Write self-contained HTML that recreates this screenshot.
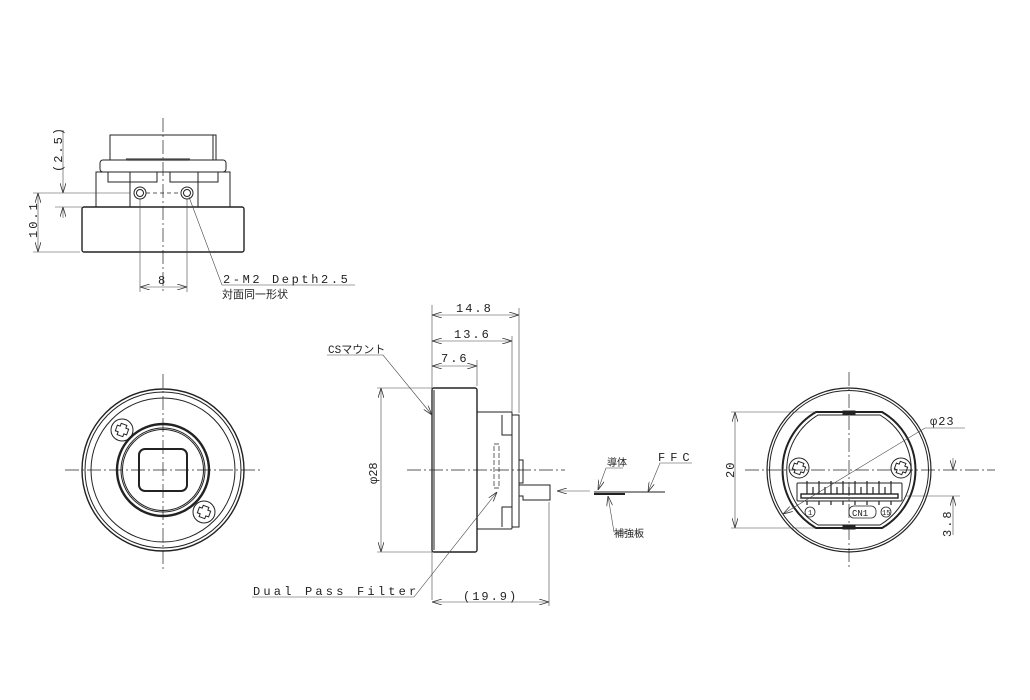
<!DOCTYPE html>
<html><head><meta charset="utf-8"><style>
html,body{margin:0;padding:0;background:#fff}
svg{display:block}
text{font-family:"Liberation Mono","Noto Sans CJK JP",monospace;fill:#222}
</style></head><body>
<svg width="1030" height="700" viewBox="0 0 1030 700" xmlns="http://www.w3.org/2000/svg">
<defs>
<marker id="a" viewBox="0 0 10 6" refX="10" refY="3" markerWidth="10" markerHeight="6" orient="auto-start-reverse" markerUnits="userSpaceOnUse"><path d="M0,0 L10,3 L0,6" fill="none" stroke="#333" stroke-width="0.8"/></marker>
</defs>
<g fill="none" stroke="#222" stroke-width="1">
<!-- TOP VIEW -->
<line x1="163" y1="118" x2="163" y2="292" stroke-dasharray="14,3,2,3" stroke-width="0.7"/>
<path d="M110,160 V135 H216 V160"/>
<line x1="213" y1="135" x2="213" y2="160"/>
<rect x="100" y="160" width="126" height="12" rx="3"/>
<path d="M126,160 q1,-3 2,0 q1,-3 2,0 q1,-3 2,0 q1,-3 2,0 q1,-3 2,0 q1,-3 2,0 q1,-3 2,0 q1,-3 2,0 q1,-3 2,0 q1,-3 2,0 q1,-3 2,0 q1,-3 2,0 q1,-3 2,0 q1,-3 2,0 q1,-3 2,0 q1,-3 2,0 q1,-3 2,0 q1,-3 2,0 q1,-3 2,0 q1,-3 2,0 q1,-3 2,0 q1,-3 2,0 q1,-3 2,0 q1,-3 2,0 q1,-3 2,0 q1,-3 2,0 q1,-3 2,0 q1,-3 2,0 q1,-3 2,0 q1,-3 2,0 q1,-3 2,0 q1,-3 2,0" stroke-width="0.8"/>
<rect x="96" y="172" width="134" height="35"/>
<path d="M108,172 V182 H130 V172 M130,182 H157 V172 M170,172 V182 H198 V172 M198,182 H218 V172"/>
<path d="M130,182 V207 M198,182 V207"/>
<circle cx="140" cy="193" r="6"/><circle cx="140" cy="193" r="3.5"/>
<circle cx="187" cy="193" r="6"/><circle cx="187" cy="193" r="3.5"/>
<line x1="146" y1="193" x2="181" y2="193" stroke-dasharray="4,3" stroke-width="0.7"/>
<rect x="82" y="207" width="162" height="45" rx="2" stroke-width="1.4"/>
<g stroke-width="0.6" stroke="#444">
<line x1="33" y1="193" x2="130" y2="193"/><line x1="33" y1="252" x2="80" y2="252"/>
<line x1="38" y1="193" x2="38" y2="252" marker-start="url(#a)" marker-end="url(#a)"/>
<line x1="55" y1="207" x2="82" y2="207"/>
<line x1="63" y1="130" x2="63" y2="193" marker-end="url(#a)"/>
<line x1="63" y1="207" x2="63" y2="218" marker-start="url(#a)"/>
<line x1="140" y1="199" x2="140" y2="292"/><line x1="187" y1="199" x2="187" y2="292"/>
<line x1="140" y1="287" x2="187" y2="287" marker-start="url(#a)" marker-end="url(#a)"/>
<path d="M189,197 L222,285 H355"/>
</g>
<!-- FRONT VIEW -->
<g stroke-width="0.7" stroke-dasharray="14,3,2,3"><line x1="65" y1="470" x2="262" y2="470"/><line x1="163" y1="374" x2="163" y2="570"/></g>
<circle cx="163" cy="470" r="81" stroke-width="1.4"/>
<circle cx="163" cy="470" r="78"/>
<circle cx="163" cy="470" r="72"/>
<circle cx="163" cy="470" r="46" stroke-width="2.4"/>
<circle cx="163" cy="470" r="42"/>
<circle cx="163" cy="470" r="40.5"/>
<rect x="139" y="449" width="48" height="42" rx="6" stroke-width="2"/>
<circle cx="122" cy="430" r="11"/><circle cx="204" cy="512" r="11"/>
<path d="M119,424 h6 v3 h3 v6 h-3 v3 h-6 v-3 h-3 v-6 h3z" transform="rotate(20 122 430)"/>
<path d="M201,506 h6 v3 h3 v6 h-3 v3 h-6 v-3 h-3 v-6 h3z" transform="rotate(20 204 512)"/>
<!-- SIDE VIEW -->
<line x1="407" y1="470" x2="565" y2="470" stroke-dasharray="14,3,2,3" stroke-width="0.7"/>
<rect x="432" y="388" width="45" height="164" rx="2" stroke-width="1.4"/>
<line x1="434" y1="390" x2="434" y2="550"/>
<rect x="477" y="412" width="35" height="117" rx="1"/>
<rect x="512" y="415" width="7" height="112"/>
<path d="M502,415 V435 H512 M502,527 V507 H512"/>
<path d="M519,460 h4 v23 h-4"/>
<path d="M519,485 h31 v15 h-27 v-4 h-4"/>
<g stroke-dasharray="5,2" stroke-width="0.7"><rect x="494" y="444" width="5" height="44"/></g>
<g stroke-width="0.6" stroke="#444">
<line x1="432" y1="305" x2="432" y2="600"/>
<line x1="519" y1="308" x2="519" y2="413"/><line x1="512" y1="336" x2="512" y2="413"/><line x1="477" y1="360" x2="477" y2="386"/>
<line x1="549" y1="502" x2="549" y2="606"/>
<line x1="432" y1="315" x2="519" y2="315" marker-start="url(#a)" marker-end="url(#a)"/>
<line x1="432" y1="341" x2="512" y2="341" marker-start="url(#a)" marker-end="url(#a)"/>
<line x1="432" y1="366" x2="477" y2="366" marker-start="url(#a)" marker-end="url(#a)"/>
<line x1="432" y1="602" x2="549" y2="602" marker-start="url(#a)" marker-end="url(#a)"/>
<line x1="377" y1="388" x2="432" y2="388"/><line x1="377" y1="552" x2="432" y2="552"/>
<line x1="381" y1="388" x2="381" y2="552" marker-start="url(#a)" marker-end="url(#a)"/>
<path d="M327,355 H383 L432,415" marker-end="url(#a)"/>
<path d="M252,597 H414 L497,492" marker-end="url(#a)"/>
<line x1="590" y1="491" x2="557" y2="491" marker-end="url(#a)"/>
<path d="M623,468 H606 L598,490" marker-end="url(#a)"/>
<path d="M692,463 H660 L648,492" marker-end="url(#a)"/>
<path d="M627,532 H614 L608,496" marker-end="url(#a)"/>
</g>
<line x1="594" y1="492" x2="665" y2="492"/>
<line x1="594" y1="494" x2="625" y2="494" stroke-width="2"/>
<!-- RIGHT VIEW -->
<g stroke-width="0.7" stroke-dasharray="14,3,2,3"><line x1="745" y1="470" x2="995" y2="470"/><line x1="849" y1="372" x2="849" y2="570"/></g>
<circle cx="849" cy="470" r="82" stroke-width="1.2"/>
<circle cx="849" cy="470" r="79.5"/>
<path d="M816,412 H882 A67,67 0 0 1 882,528 H816 A67,67 0 0 1 816,412Z" stroke-width="2"/>
<path d="M818,415 H880 A64,64 0 0 1 880,525 H818 A64,64 0 0 1 818,415Z"/>
<rect x="843" y="411" width="12" height="3" fill="#222"/><rect x="843" y="526" width="12" height="3" fill="#222"/>
<circle cx="799" cy="468" r="10"/><circle cx="901" cy="468" r="10"/>
<path d="M796,462 h6 v3 h3 v6 h-3 v3 h-6 v-3 h-3 v-6 h3z" transform="rotate(20 799 468)"/>
<path d="M898,462 h6 v3 h3 v6 h-3 v3 h-6 v-3 h-3 v-6 h3z" transform="rotate(20 901 468)"/>
<rect x="797" y="483" width="105" height="18" rx="1"/>
<rect x="801" y="494" width="97" height="4" stroke-width="1.4"/>
<g stroke-width="1.2">
<path d="M807,481v13M813,487v7M819,481v13M825,487v7M831,481v13M837,487v7M843,481v13M849,487v7M855,481v13M861,487v7M867,481v13M873,487v7M879,481v13M885,487v7M891,481v13"/>
<path d="M807,501v4M819,501v4M831,501v4M843,501v4M855,501v4M867,501v4M879,501v4M891,501v4"/>
</g>
<circle cx="810" cy="512" r="5" stroke-width="0.8"/><circle cx="886" cy="512" r="5" stroke-width="0.8"/>
<rect x="849" y="506" width="27" height="12" rx="5" stroke-width="0.8"/>
<g stroke-width="0.6" stroke="#444">
<line x1="731" y1="412" x2="816" y2="412"/><line x1="731" y1="528" x2="816" y2="528"/>
<line x1="735" y1="412" x2="735" y2="528" marker-start="url(#a)" marker-end="url(#a)"/>
<path d="M965,428 H925 L783,514" marker-end="url(#a)"/>
<line x1="905" y1="496" x2="960" y2="496"/>
<line x1="953" y1="458" x2="953" y2="470" marker-end="url(#a)"/>
<line x1="953" y1="535" x2="953" y2="496" marker-end="url(#a)"/>
</g>
</g>
<!-- TEXT -->
<g font-size="12">
<text x="62" y="172" transform="rotate(-90 62 172)" letter-spacing="2">(2.5)</text>
<text x="37" y="238" transform="rotate(-90 37 238)" letter-spacing="2">10.1</text>
<text x="158" y="284">8</text>
<text x="223" y="283" letter-spacing="2.6">2-M2 Depth2.5</text>
<text x="222" y="298" font-size="11">対面同一形状</text>
<text x="456" y="312" letter-spacing="2">14.8</text>
<text x="454" y="338" letter-spacing="2">13.6</text>
<text x="441" y="362" letter-spacing="2">7.6</text>
<text x="328" y="353" font-size="11">CSマウント</text>
<text x="377" y="484" transform="rotate(-90 377 484)">φ28</text>
<text x="253" y="595" letter-spacing="3.2">Dual Pass Filter</text>
<text x="463" y="600" letter-spacing="2">(19.9)</text>
<text x="607" y="466" font-size="10">導体</text>
<text x="658" y="461" letter-spacing="5">FFC</text>
<text x="614" y="537" font-size="10">補強板</text>
<text x="734" y="478" transform="rotate(-90 734 478)" letter-spacing="1">20</text>
<text x="930" y="425" letter-spacing="1">φ23</text>
<text x="951" y="537" transform="rotate(-90 951 537)" letter-spacing="2">3.8</text>
<text x="852" y="516" font-size="9">CN1</text>
<text x="808" y="515" font-size="7">1</text>
<text x="882" y="515" font-size="7">15</text>
</g>
</svg>
</body></html>
